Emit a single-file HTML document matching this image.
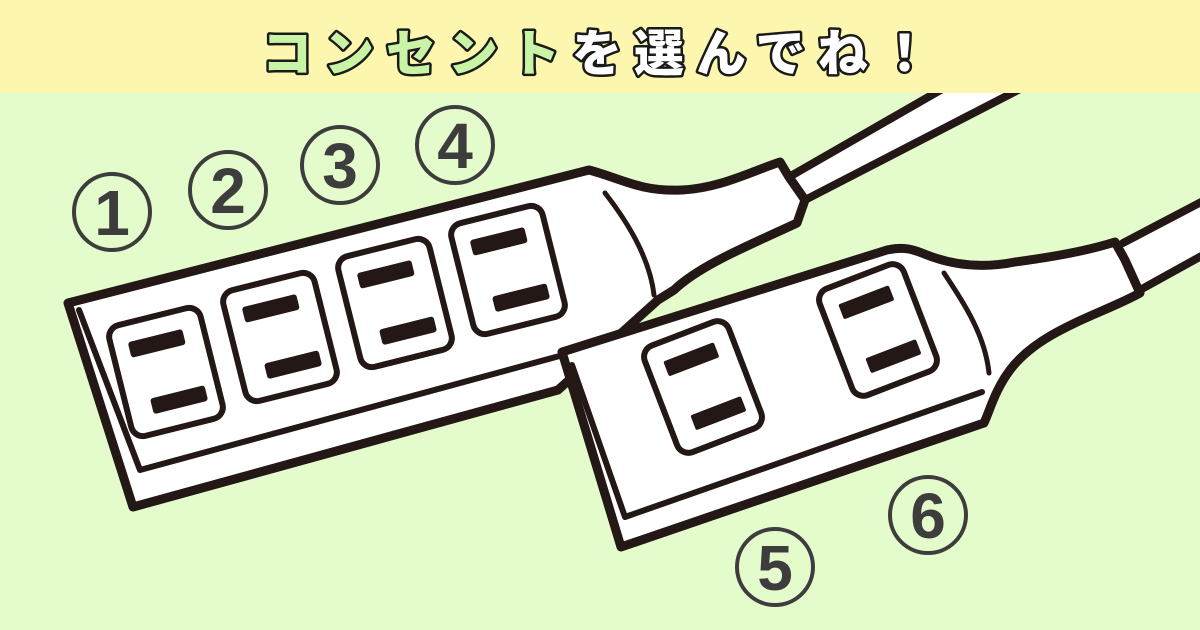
<!DOCTYPE html>
<html><head><meta charset="utf-8"><style>
html,body{margin:0;padding:0;width:1200px;height:630px;overflow:hidden;background:#e4fccb}
svg{display:block}
</style></head><body>
<svg width="1200" height="630" viewBox="0 0 1200 630" xmlns="http://www.w3.org/2000/svg">
<rect x="0" y="0" width="1200" height="630" fill="#e4fccb"/>
<g stroke="#231815" stroke-linejoin="round" stroke-linecap="round">
<path d="M789,177 L944,88 L1022,88 L805,200 Z" fill="#fff" stroke="none"/>
<line x1="789" y1="177" x2="944" y2="88" stroke-width="8"/>
<line x1="805" y1="200" x2="1022" y2="88" stroke-width="8"/>
<path d="M68,303 L589,170 C620,178 640,192 682,190 C720,188 750,172 780,162 L789,177 L805,200 L797,223 C750,245 700,265 674,290 L658,300 L558,390 L133,507 Z" fill="#fff" stroke-width="9"/>
<path d="M79,310 L140,470 L600,345" fill="none" stroke-width="6"/>
<path d="M72,318 L128,490" fill="none" stroke-width="3"/>
<path d="M605,193 C630,225 650,260 654,295" fill="none" stroke-width="5"/>
<g fill="none" stroke-width="6">
<g transform="translate(166,372) rotate(-14)"><rect x="-47" y="-57" width="94" height="114" rx="12"/></g>
<g transform="translate(280,337) rotate(-14)"><rect x="-47" y="-57" width="94" height="114" rx="12"/></g>
<g transform="translate(395,303) rotate(-14)"><rect x="-47" y="-57" width="94" height="114" rx="12"/></g>
<g transform="translate(508,270) rotate(-14)"><rect x="-47" y="-57" width="94" height="114" rx="12"/></g>
</g>
<g fill="#231815" stroke="none">
<g transform="translate(166,372) rotate(-14)"><rect x="-30" y="-38" width="56" height="16" rx="3"/><rect x="-22" y="22" width="56" height="16" rx="3"/></g>
<g transform="translate(280,337) rotate(-14)"><rect x="-30" y="-38" width="56" height="16" rx="3"/><rect x="-22" y="22" width="56" height="16" rx="3"/></g>
<g transform="translate(395,303) rotate(-14)"><rect x="-30" y="-38" width="56" height="16" rx="3"/><rect x="-22" y="22" width="56" height="16" rx="3"/></g>
<g transform="translate(508,270) rotate(-14)"><rect x="-30" y="-38" width="56" height="16" rx="3"/><rect x="-22" y="22" width="56" height="16" rx="3"/></g>
</g>
<path d="M1123,243 L1205,200 L1205,254 L1140,290 Z" fill="#fff" stroke="none"/>
<line x1="1123" y1="243" x2="1205" y2="200" stroke-width="8"/>
<line x1="1140" y1="290" x2="1205" y2="254" stroke-width="8"/>
<path d="M562,352 L887,250 C905,246 915,250 927,255 C955,266 985,268 1015,262 C1060,256 1090,250 1115,242 L1125,260 L1140,293 C1100,315 1040,330 1010,370 C995,390 990,410 984,423 L621,547 Z" fill="#fff" stroke-width="9"/>
<path d="M572,365 L625,517 L982,392" fill="none" stroke-width="6"/>
<path d="M566,366 L615,530" fill="none" stroke-width="3"/>
<path d="M944,273 C965,305 985,335 989,373" fill="none" stroke-width="5"/>
<g fill="none" stroke-width="6">
<g transform="translate(703,387) rotate(-21)"><rect x="-45" y="-57" width="90" height="114" rx="12"/></g>
<g transform="translate(878,330) rotate(-21)"><rect x="-45" y="-57" width="90" height="114" rx="12"/></g>
</g>
<g fill="#231815" stroke="none">
<g transform="translate(703,387) rotate(-21)"><rect x="-28" y="-38" width="54" height="16" rx="2"/><rect x="-22" y="22" width="54" height="16" rx="2"/></g>
<g transform="translate(878,330) rotate(-21)"><rect x="-28" y="-38" width="54" height="16" rx="2"/><rect x="-22" y="22" width="54" height="16" rx="2"/></g>
</g>
</g>
<g fill="none" stroke="#3d3d3d" stroke-width="4">
<circle cx="112" cy="212" r="38"/><circle cx="228" cy="190" r="38"/><circle cx="340" cy="165" r="38"/>
<circle cx="455" cy="145" r="38"/><circle cx="775" cy="567" r="38"/><circle cx="928" cy="515" r="38"/>
</g>
<g fill="#3d3d3d" font-family="Liberation Sans, sans-serif" font-weight="bold" font-size="64" text-anchor="middle">
<text x="112" y="235">1</text><text x="228" y="213">2</text><text x="340" y="188">3</text>
<text x="455" y="168">4</text><text x="775" y="590">5</text><text x="928" y="538">6</text>
</g>
<rect x="0" y="0" width="1200" height="93" fill="#fdf6ae"/>
<g font-family="Liberation Sans, 'Noto Sans CJK JP', sans-serif" font-weight="900" font-size="50" stroke="#1a1a1a" stroke-width="5" paint-order="stroke" stroke-linejoin="round" letter-spacing="12">
<text x="262" y="71"><tspan fill="#c9f4a6">コンセント</tspan><tspan fill="#ffffff">を選んでね！</tspan></text>
</g>
</svg>
</body></html>
